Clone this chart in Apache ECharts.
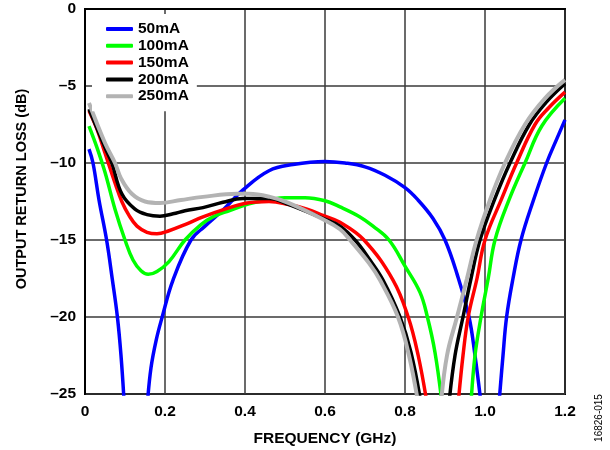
<!DOCTYPE html>
<html>
<head>
<meta charset="utf-8">
<script src="https://cdn.jsdelivr.net/npm/echarts@6/dist/echarts.min.js"></script>
<style>html,body{margin:0;padding:0;background:#fff}#c{width:610px;height:450px}</style>
</head>
<body>
<div id="c"></div>
<script>
var seriesNames = ['50mA', '100mA', '150mA', '200mA', '250mA'];
var xTickLabels = ['0', '0.2', '0.4', '0.6', '0.8', '1.0', '1.2'];
var yTickLabels = ['–25', '–20', '–15', '–10', '–5', '0'];

var s50mA = [[0.01,-9.1],[0.02,-10],[0.035,-12.4],[0.054,-15],[0.068,-17.5],[0.081,-20],[0.09,-22.5],[0.098,-25.6],null,
  [0.156,-25.6],[0.165,-23.3],[0.178,-21.5],[0.193,-20],[0.22,-17.6],[0.265,-15],[0.3,-14.1],[0.345,-13.05],[0.395,-11.75],
  [0.46,-10.5],[0.52,-10.1],[0.6,-9.9],[0.65,-10],[0.7,-10.25],[0.75,-10.8],[0.8,-11.6],[0.8325,-12.4],[0.87,-13.6],[0.9,-15],
  [0.93,-17.2],[0.96,-20],[0.975,-22.5],[0.99,-25.6],null,
  [1.035,-25.6],[1.045,-22.5],[1.054,-20],[1.07,-17.5],[1.09,-15],[1.12,-12.5],[1.154,-10],[1.18,-8.4],[1.2,-7.2]];
var s100mA = [[0.01,-7.6],[0.03,-9],[0.05,-10.6],[0.075,-13],[0.1,-15],[0.12,-16.3],[0.14,-17],[0.158,-17.23],[0.18,-17.05],
  [0.21,-16.4],[0.25,-15],[0.29,-14],[0.32,-13.5],[0.36,-13.1],[0.41,-12.65],[0.46,-12.4],[0.5,-12.25],[0.55,-12.25],[0.6,-12.45],
  [0.6375,-12.85],[0.6875,-13.5],[0.72,-14.1],[0.76,-15],[0.8,-16.7],[0.8375,-18.4],[0.856,-20],[0.875,-22.3],[0.8925,-25.6],null,
  [0.965,-25.6],[0.975,-22.5],[0.99,-20],[1.008,-17.5],[1.025,-15],[1.06,-12.4],[1.1,-10],[1.142,-7.6],[1.2,-5.8]];
var s150mA = [[0.01,-6.6],[0.03,-7.8],[0.05,-9.35],[0.075,-11.3],[0.092,-12.5],[0.11,-13.4],[0.13,-14.1],[0.155,-14.5],[0.18,-14.6],
  [0.21,-14.4],[0.25,-14],[0.295,-13.5],[0.35,-13],[0.405,-12.6],[0.46,-12.5],[0.51,-12.7],[0.555,-13],[0.595,-13.4],[0.6375,-13.85],
  [0.6975,-15],[0.77,-17.6],[0.808,-20],[0.833,-22.5],[0.855,-25.6],null,
  [0.933,-25.6],[0.945,-22.5],[0.958,-20],[0.98,-17.5],[1.0,-15],[1.042,-12.3],[1.079,-10],[1.125,-7.5],[1.16,-6.4],[1.2,-5.4]];
var s200mA = [[0.01,-6.5],[0.05,-9],[0.067,-10],[0.092,-12],[0.125,-13],[0.155,-13.35],[0.1875,-13.45],[0.22,-13.3],[0.25,-13.1],
  [0.295,-12.9],[0.345,-12.55],[0.395,-12.3],[0.46,-12.3],[0.51,-12.7],[0.595,-13.6],[0.6375,-14.1],[0.675,-15],[0.7125,-16.3],
  [0.745,-17.6],[0.7875,-20],[0.815,-22.3],[0.84,-25.6],null,
  [0.91,-25.6],[0.925,-22.5],[0.945,-20],[0.965,-17.5],[0.9875,-15],[1.025,-12.3],[1.0625,-10],[1.111,-7.5],[1.155,-6.0],[1.2,-4.85]];
var s250mA = [[0.01,-6.1],[0.05,-8.7],[0.075,-10],[0.09,-11],[0.117,-12],[0.15,-12.5],[0.1875,-12.6],[0.24,-12.4],[0.295,-12.2],
  [0.38,-12],[0.41,-12],[0.4625,-12.2],[0.51,-12.6],[0.595,-13.65],[0.6375,-14.3],[0.6625,-15],[0.71,-16.5],[0.7375,-17.6],
  [0.7825,-20],[0.81,-22.5],[0.833,-25.6],null,
  [0.89,-25.6],[0.905,-22.5],[0.93,-20],[0.955,-17.5],[0.979,-15],[1.0125,-12.4],[1.05,-10],[1.1,-7.5],[1.15,-5.8],[1.2,-4.6]];

var seriesData = [s50mA, s100mA, s150mA, s200mA, s250mA];
var colors = ['#0000ff', '#00ff00', '#ff0000', '#000000', '#b3b3b3'];
var widths = [3.5, 3.5, 3.5, 3.5, 4];

var FONT = 'Arial, "Liberation Sans", sans-serif';
var chart = echarts.init(document.getElementById('c'), null, {renderer: 'canvas'});
chart.setOption({
  animation: false,
  backgroundColor: '#ffffff',
  grid: {left: 85, right: 45, top: 9, bottom: 56, show: true, borderColor: '#000', borderWidth: 2, containLabel: false},
  legend: {
    orient: 'vertical', left: 92, top: 14,
    padding: [7, 8, 7, 14],
    backgroundColor: '#ffffff',
    itemWidth: 27, itemHeight: 4, itemGap: 0.8,
    icon: 'roundRect',
    textStyle: {fontFamily: FONT, fontWeight: 'bold', fontSize: 15.5, color: '#000', lineHeight: 16},
    data: seriesNames
  },
  xAxis: {
    type: 'value', min: 0, max: 1.2, interval: 0.2,
    axisLine: {show: true, lineStyle: {color: '#000', width: 2}},
    axisTick: {show: false},
    splitLine: {show: true, lineStyle: {color: '#3a3a3a', width: 1.5}},
    axisLabel: {
      margin: 10, color: '#000', fontFamily: FONT, fontWeight: 'bold', fontSize: 15.5,
      formatter: function (v, i) { return xTickLabels[Math.round(v / 0.2)]; }
    }
  },
  yAxis: {
    type: 'value', min: -25, max: 0, interval: 5,
    axisLine: {show: true, lineStyle: {color: '#000', width: 2}},
    axisTick: {show: false},
    splitLine: {show: true, lineStyle: {color: '#3a3a3a', width: 1.5}},
    axisLabel: {
      margin: 9, color: '#000', fontFamily: FONT, fontWeight: 'bold', fontSize: 15.5,
      formatter: function (v) { return yTickLabels[Math.round((v + 25) / 5)]; }
    }
  },
  graphic: [
    {type: 'text', x: 22, y: 189, rotation: Math.PI / 2,
     style: {text: 'OUTPUT RETURN LOSS (dB)', fill: '#000', font: 'bold 14.5px ' + FONT, textAlign: 'center', textVerticalAlign: 'middle'}},
    {type: 'text', x: 325, y: 439,
     style: {text: 'FREQUENCY (GHz)', fill: '#000', font: 'bold 15.5px ' + FONT, textAlign: 'center', textVerticalAlign: 'middle'}},
    {type: 'text', x: 599, y: 418, rotation: Math.PI / 2,
     style: {text: '16826-015', fill: '#000', font: '10px ' + FONT, textAlign: 'center', textVerticalAlign: 'middle'}}
  ],
  series: seriesNames.map(function (n, i) {
    return {
      name: n, type: 'line', data: seriesData[i], symbol: 'none', smooth: 0.4,
      connectNulls: false, clip: true,
      lineStyle: {color: colors[i], width: widths[i]},
      itemStyle: {color: colors[i]}
    };
  })
});
</script>
</body>
</html>
